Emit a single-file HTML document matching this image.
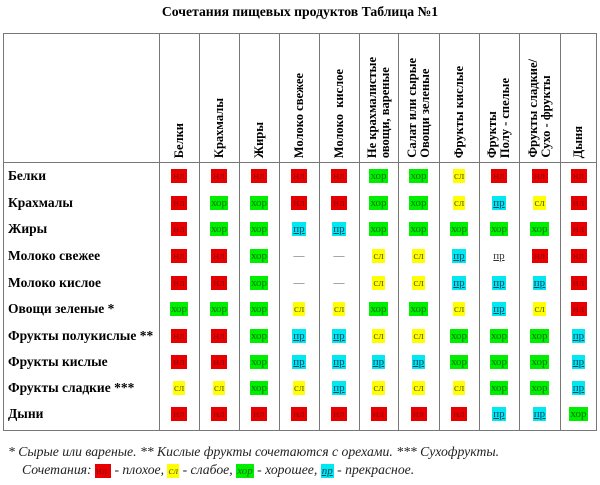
<!DOCTYPE html>
<html><head><meta charset="utf-8"><style>
body{margin:0;width:600px;height:485px;background:#fff;position:relative;font-family:"Liberation Serif","DejaVu Serif",serif;overflow:hidden}
.a{position:absolute}
.t{left:0;width:600px;top:4px;text-align:center;font-weight:bold;font-size:13.7px}
.vl{position:absolute;top:33px;height:397px;width:1px;background:#777}
.hl{position:absolute;left:3px;width:594px;height:1px;background:#777}
.h{position:absolute;top:36px;height:122px;width:40px;display:flex;justify-content:center;align-items:flex-end}
.h span{writing-mode:vertical-rl;transform:rotate(180deg);font-weight:bold;font-size:12.5px;line-height:13px;white-space:nowrap}
.r{position:absolute;left:8px;font-weight:bold;font-size:13.5px;height:16px;line-height:16px;white-space:nowrap}
.c{position:absolute;width:40px;text-align:center;height:16px;line-height:14px}
.b{display:inline-block;font-size:11px;padding:0 1px;height:14px;line-height:14px}
.n{background:#e80000;color:#900;width:14px}
.x{background:#00ee00;color:#070}
.s{background:#ffff00;color:#660}
.p{background:#00e8f0;color:#046;text-decoration:underline}
.q{color:#333;text-decoration:underline}
.d{color:#555;font-size:11px}
.f{position:absolute;font-style:italic;font-size:13.7px;color:#222;white-space:nowrap}
</style></head><body>
<div class="a t">Сочетания пищевых продуктов Таблица №1</div>
<div class="hl" style="top:33px"></div>
<div class="hl" style="top:162px"></div>
<div class="hl" style="top:430px"></div>
<div class="vl" style="left:3px"></div>
<div class="vl" style="left:159px"></div>
<div class="vl" style="left:199px"></div>
<div class="vl" style="left:239px"></div>
<div class="vl" style="left:279px"></div>
<div class="vl" style="left:319px"></div>
<div class="vl" style="left:359px"></div>
<div class="vl" style="left:398px"></div>
<div class="vl" style="left:439px"></div>
<div class="vl" style="left:479px"></div>
<div class="vl" style="left:519px"></div>
<div class="vl" style="left:560px"></div>
<div class="vl" style="left:596px"></div>
<div id="hdr"></div>
<div id="body"></div>
<div class="f" style="left:8px;top:444px">* Сырые или вареные. ** Кислые фрукты сочетаются с орехами. *** Сухофрукты.</div>
<div class="f" style="left:22px;top:462px">Сочетания: <span class="b n" style="font-style:normal">нл</span> - плохое, <span class="b s">сл</span> - слабое, <span class="b x">хор</span> - хорошее, <span class="b p">пр</span> - прекрасное.</div>
<script>
var cols=[159,199,239,279,319,359,398,439,479,519,560,597];
var hd=["Белки","Крахмалы","Жиры","Молоко свежее","Молоко&nbsp; кислое","Не крахмалистые<br>овощи, вареные","Салат или сырые<br>Овощи зеленые","Фрукты кислые","Фрукты<br>Полу - спелые","Фрукты сладкие/<br>Сухо - фрукты","Дыня"];
var h="";
for(var i=0;i<11;i++){h+='<div class="h" style="left:'+cols[i]+'px;width:'+(cols[i+1]-cols[i])+'px"><span>'+hd[i]+'</span></div>';}
document.getElementById("hdr").innerHTML=h;
var rows=[["Белки","n n n n n x x s n n n"],["Крахмалы","n x x n n x x s p s n"],["Жиры","n x x p p x x x x x n"],["Молоко свежее","n n x d d s s p q n n"],["Молоко кислое","n n x d d s s p p p n"],["Овощи зеленые *","x x x s s x x s p s n"],["Фрукты полукислые **","n n x p p s s x x x p"],["Фрукты кислые","n n x p p p p x x x p"],["Фрукты сладкие ***","s s x s p s s s x x p"],["Дыни","n n n n n n n n p p x"]];
var T={n:"нл",x:"хор",s:"сл",p:"пр",q:"пр",d:"—"};
var ys=[176,203,229,256,283,309,336,362,388,414];
var b="";
rows.forEach(function(r,k){var y=ys[k]-8;b+='<div class="r" style="top:'+y+'px">'+r[0]+'</div>';
r[1].split(" ").forEach(function(v,i){b+='<div class="c" style="top:'+y+'px;left:'+cols[i]+'px;width:'+(cols[i+1]-cols[i])+'px"><span class="b '+v+'">'+T[v]+'</span></div>';});});
document.getElementById("body").innerHTML=b;
</script>
</body></html>
